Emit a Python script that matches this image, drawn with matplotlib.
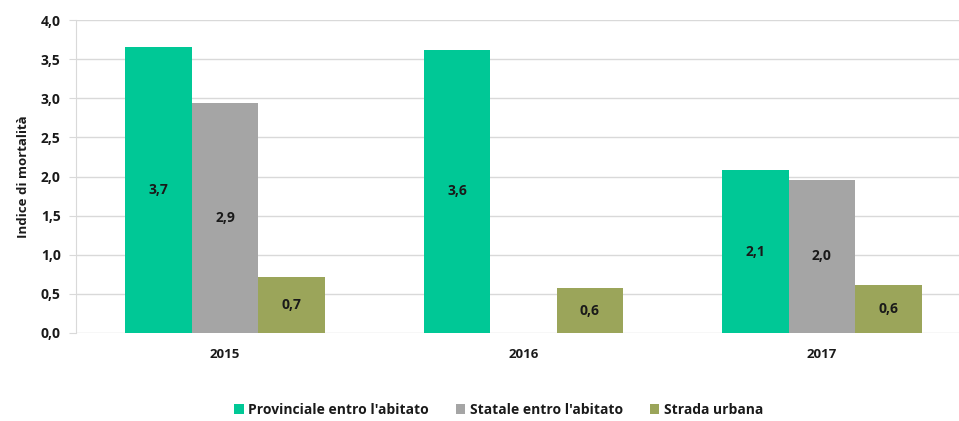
import numpy as np
import matplotlib.pyplot as plt
from matplotlib.ticker import FuncFormatter

years = ['2015', '2016', '2017']
series_names = ["Provinciale entro l'abitato", "Statale entro l'abitato", 'Strada urbana']
provinciale = [3.66, 3.62, 2.08]
statale = [2.94, 0.0, 1.96]
urbana = [0.72, 0.57, 0.61]

COLORS = ['#00C896', '#A5A5A5', '#9BA55A']
GRID = '#D9D9D9'
INK = '#1a1a1a'

plt.rcParams['font.family'] = ['Open Sans', 'DejaVu Sans']

fig = plt.figure(figsize=(9.59, 4.21), dpi=100)
ax = fig.add_axes([76 / 959, 88 / 421, 1 - 76 / 959, 313 / 421])

x = np.arange(len(years))
width = 0.223
for i, (vals, name, col) in enumerate(zip([provinciale, statale, urbana], series_names, COLORS)):
    pos = x + (i - 1) * width
    bars = ax.bar(pos, vals, width, color=col, label=name, zorder=2)
    for b, v in zip(bars, vals):
        if v <= 0:
            continue
        ax.text(b.get_x() + b.get_width() / 2, v / 2, f"{v:.1f}".replace('.', ','),
                ha='center', va='center', fontsize=10, fontweight='bold', color=INK, zorder=3)

ax.set_xlim(-0.5, 2.46)
ax.set_ylim(0, 4.0)
ax.set_yticks(np.arange(0, 4.01, 0.5))
ax.yaxis.set_major_formatter(FuncFormatter(lambda v, _: f"{v:.1f}".replace('.', ',')))
ax.set_xticks(x)
ax.set_xticklabels(years, fontweight='bold', fontsize=9.5)
for lbl in ax.get_yticklabels():
    lbl.set_fontweight('bold')
    lbl.set_fontsize(10)

ax.grid(axis='y', color=GRID, linewidth=1, zorder=0)
for s in ['top', 'right', 'bottom']:
    ax.spines[s].set_visible(False)
ax.spines['left'].set_color(GRID)
ax.tick_params(axis='y', length=5, color=GRID, pad=6, colors=INK)
ax.tick_params(axis='x', length=0, pad=11, colors=INK)
ax.set_ylabel('Indice di mortalità', fontsize=9.5, fontweight='bold', color=INK, labelpad=8)

leg = fig.legend(loc='lower center', bbox_to_anchor=(0.52, -0.02), ncol=3, frameon=False,
                 prop={'weight': 'bold', 'size': 10}, handlelength=0.7, handleheight=0.7,
                 handletextpad=0.35, columnspacing=1.9)
for t in leg.get_texts():
    t.set_color(INK)

fig.savefig('out.png', dpi=100, facecolor='white')
